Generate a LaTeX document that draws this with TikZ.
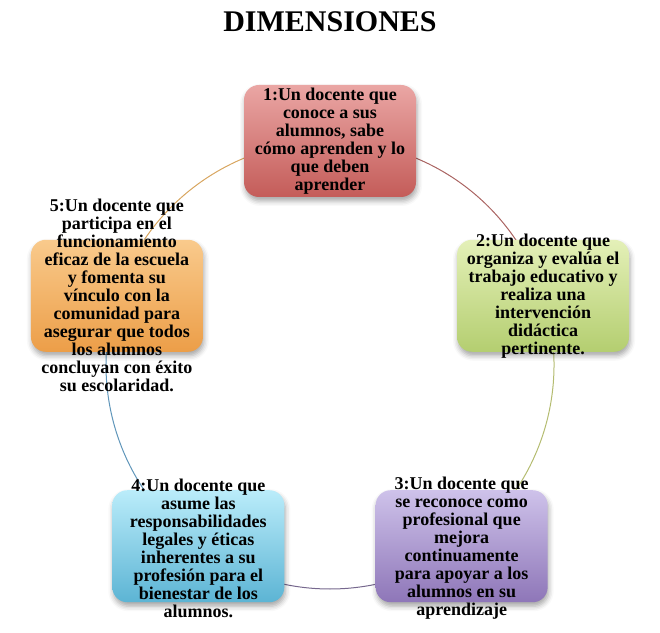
\documentclass[tikz,border=0pt]{standalone}
\usepackage{fontspec}
\setmainfont{Liberation Serif}
\usetikzlibrary{shadows.blur}
\definecolor{rTop}{RGB}{234,166,164}
\definecolor{rBot}{RGB}{196,92,89}
\definecolor{gTop}{RGB}{228,240,184}
\definecolor{gBot}{RGB}{180,206,112}
\definecolor{pTop}{RGB}{206,194,234}
\definecolor{pBot}{RGB}{142,118,184}
\definecolor{bTop}{RGB}{186,236,250}
\definecolor{bBot}{RGB}{92,180,212}
\definecolor{oTop}{RGB}{249,202,140}
\definecolor{oBot}{RGB}{236,158,72}
\definecolor{arcA}{RGB}{170,100,98}
\definecolor{arcB}{RGB}{180,188,112}
\definecolor{arcC}{RGB}{118,104,142}
\definecolor{arcD}{RGB}{96,150,186}
\definecolor{arcE}{RGB}{216,166,96}
\begin{document}
\begin{tikzpicture}[x=1pt,y=1pt,
  box/.style={rounded corners=15pt, minimum width=172pt, minimum height=112pt, inner sep=0pt, draw=none,
    blur shadow={shadow xshift=1pt,shadow yshift=-4pt,shadow blur radius=5pt,shadow opacity=35}},
  txt/.style={align=center, font=\fontsize{18}{18}\selectfont\bfseries, inner sep=0pt, text=black},
  ring/.style={line width=1pt}]
\useasboundingbox (0,0) rectangle (660,632);
\coordinate (c) at (330,267);
% ring arcs
\draw[ring,arcA] ([shift={(90:224)}]c) arc[start angle=90,end angle=18,radius=224];
\draw[ring,arcB] ([shift={(18:224)}]c) arc[start angle=18,end angle=-54,radius=224];
\draw[ring,arcC] ([shift={(-54:224)}]c) arc[start angle=-54,end angle=-126,radius=224];
\draw[ring,arcD] ([shift={(-126:224)}]c) arc[start angle=-126,end angle=-198,radius=224];
\draw[ring,arcE] ([shift={(162:224)}]c) arc[start angle=162,end angle=90,radius=224];
% boxes
\node[box,top color=rTop,bottom color=rBot] (b1) at ([shift={(90:224)}]c) {};
\node[box,top color=gTop,bottom color=gBot] (b2) at ([shift={(18:224)}]c) {};
\node[box,top color=pTop,bottom color=pBot] (b3) at ([shift={(-54:224)}]c) {};
\node[box,top color=bTop,bottom color=bBot] (b4) at ([shift={(-126:224)}]c) {};
\node[box,top color=oTop,bottom color=oBot] (b5) at ([shift={(162:224)}]c) {};
% texts
\node[txt] (t1) at (b1) {1:Un docente que\\conoce a sus\\alumnos, sabe\\cómo aprenden y lo\\que deben\\aprender};
\node[txt] (t2) at (b2) {2:Un docente que\\organiza y evalúa el\\trabajo educativo y\\realiza una\\intervención\\didáctica\\pertinente.};
\node[txt] (t3) at ([yshift=-2pt]b3) {3:Un docente que\\se reconoce como\\profesional que\\mejora\\continuamente\\para apoyar a los\\alumnos en su\\aprendizaje};
\node[txt] (t4) at ([yshift=-2pt]b4) {4:Un docente que\\asume las\\responsabilidades\\legales y éticas\\inherentes a su\\profesión para el\\bienestar de los\\alumnos.};
\node[txt] (t5) at (b5) {5:Un docente que\\participa en el\\funcionamiento\\eficaz de la escuela\\y fomenta su\\vínculo con la\\comunidad para\\asegurar que todos\\los alumnos\\concluyan con éxito\\su escolaridad.};
% title
\node[font=\fontsize{30}{34}\selectfont\bfseries, inner sep=0pt] (title) at (330,610) {DIMENSIONES};
\end{tikzpicture}
\end{document}
